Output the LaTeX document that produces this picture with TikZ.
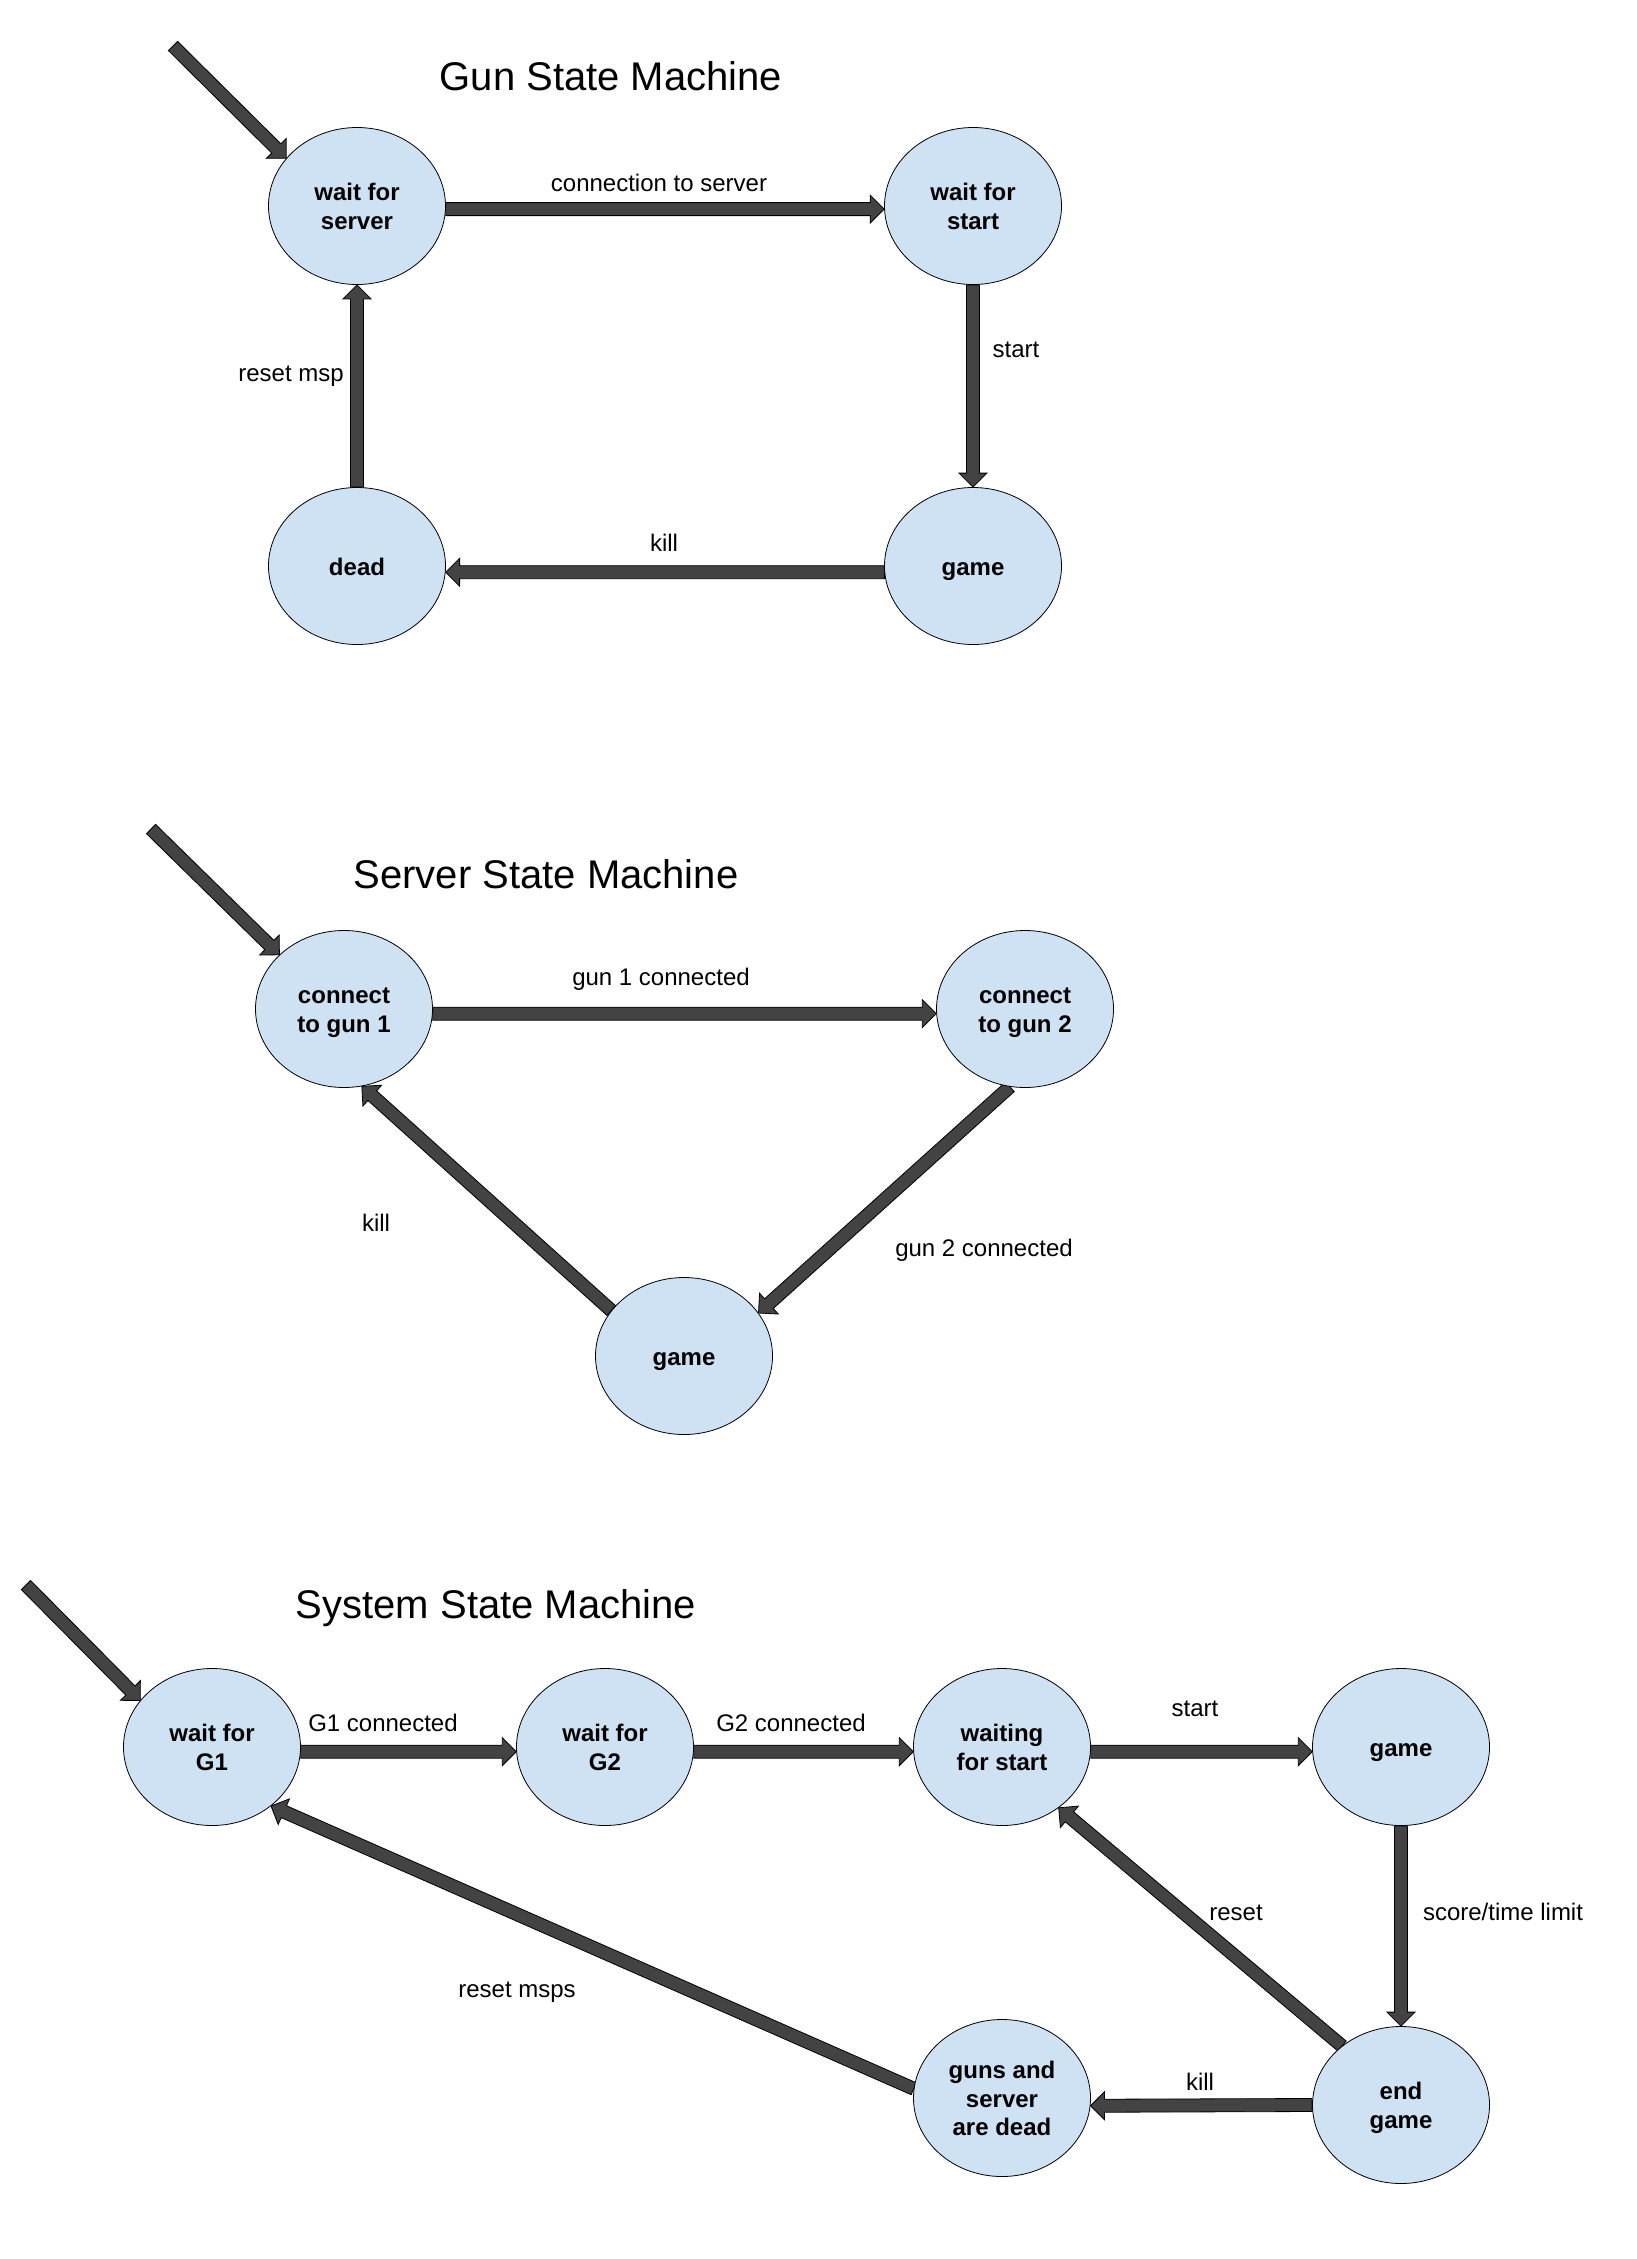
\documentclass[tikz,border=0pt]{standalone}
\usepackage{fontspec}
\setmainfont{Liberation Sans}
\usetikzlibrary{calc,shapes.geometric,backgrounds}
\definecolor{nodefill}{HTML}{CFE2F3}
\definecolor{arrgray}{HTML}{434343}
\newcommand{\mytopstrut}{\rule{0pt}{21.7pt}}
\newcommand{\mybotstrut}{\rule[-5.1pt]{0pt}{5.1pt}}
\newcommand{\stx}[1]{\setbox\strutbox\hbox{\vrule height 23.2pt depth 5.2pt width 0pt}%
  \begin{tabular}{@{}c@{}}#1\end{tabular}}
\tikzset{
  state/.style={ellipse, draw=black, line width=0.8pt, fill=nodefill,
    minimum width=177pt, minimum height=157pt, inner sep=0pt,
    font=\bfseries\fontsize{24}{28.4}\selectfont},
  lbl/.style={font=\fontsize{24}{28.4}\selectfont, inner sep=0pt,
    execute at begin node=\mytopstrut, execute at end node=\mybotstrut},
  ttl/.style={font=\fontsize{40}{46}\selectfont, inner sep=0pt},
  fatarr/.style={fill=arrgray, draw=black, line width=0.8pt, line join=miter},
}
\newcommand{\fatarrow}[2]{%
  \path #1 coordinate (fa-a) #2 coordinate (fa-b);
  \path ($(fa-b)!14pt!(fa-a)$) coordinate (fa-c);
  \begin{scope}[on background layer]
  \filldraw[fatarr] ($(fa-a)!6.5pt!90:(fa-b)$) -- ($(fa-c)!6.5pt!90:(fa-b)$)
    -- ($(fa-c)!14pt!90:(fa-b)$) -- (fa-b) -- ($(fa-c)!14pt!-90:(fa-b)$)
    -- ($(fa-c)!6.5pt!-90:(fa-b)$) -- ($(fa-a)!6.5pt!-90:(fa-b)$) -- cycle;
  \end{scope}}
\begin{document}
\begin{tikzpicture}[x=1pt,y=-1pt]
\useasboundingbox (0,0) rectangle (1637,2259);
\begin{scope}[on background layer]
\fill[white] (0,0) rectangle (1637,2259);
\end{scope}

% ---------------- Gun State Machine ----------------
\node[ttl] (gtitle) at (611,76) {Gun State Machine};
\node[state] (gws) at (357,206) {\stx{wait for\\server}};
\node[state] (gwst) at (973,206) {\stx{wait for\\start}};
\node[state] (ggame) at (973,566) {\stx{game}};
\node[state] (gdead) at (357,566) {\stx{dead}};
\coordinate (ginit) at (173,46);

\node[lbl] (lconn) at (659,183) {connection to server};
\node[lbl] (lgstart) at (1016,349) {start};
\node[lbl] (lgkill) at (664,543) {kill};
\node[lbl] (lgreset) at (291,373) {reset msp};

\fatarrow{(ginit)}{(gws.146)}
\fatarrow{(gws.-2)}{(gwst.182)}
\fatarrow{(gwst.south)}{(ggame.north)}
\fatarrow{(ggame.184)}{(gdead.-4)}
\fatarrow{(gdead.north)}{(gws.south)}

% ---------------- Server State Machine ----------------
\node[ttl] (stitle) at (546,874) {Server State Machine};
\node[state] (sc1) at (344,1009) {\stx{connect\\to gun 1}};
\node[state] (sc2) at (1025,1009) {\stx{connect\\to gun 2}};
\node[state] (sgame) at (684,1356) {\stx{game}};
\coordinate (sinit) at (151,829);

\node[lbl] (lg1c) at (661,977) {gun 1 connected};
\node[lbl] (lg2c) at (984,1248) {gun 2 connected};
\node[lbl] (lskill) at (376,1223) {kill};

\fatarrow{(sinit)}{(sc1.140)}
\fatarrow{(sc1.-3)}{(sc2.183)}
\fatarrow{(sc2.-101)}{(sgame.30)}
\fatarrow{(sgame.148)}{(sc1.-77)}

% ---------------- System State Machine ----------------
\node[ttl] (ytitle) at (496,1608) {System State Machine};
\node[state] (wg1) at (212,1747) {\stx{wait for\\G1}};
\node[state] (wg2) at (605,1747) {\stx{wait for\\G2}};
\node[state] (wfs) at (1002,1747) {\stx{waiting\\for start}};
\node[state] (ygame) at (1401,1747) {\stx{game}};
\node[state] (yend) at (1401,2105) {\stx{end\\game}};
\node[state] (guns) at (1002,2098) {\stx{guns and\\server\\are dead}};
\coordinate (yinit) at (26,1585);

\node[lbl] (lG1) at (383,1723) {G1 connected};
\node[lbl] (lG2) at (791,1723) {G2 connected};
\node[lbl] (lystart) at (1195,1708) {start};
\node[lbl] (lscore) at (1503,1912) {score/time limit};
\node[lbl] (lyreset) at (1236,1912) {reset};
\node[lbl] (lykill) at (1200,2082) {kill};
\node[lbl] (lmsps) at (517,1989) {reset msps};

\fatarrow{(yinit)}{(wg1.147)}
\fatarrow{(wg1.-3)}{(wg2.183)}
\fatarrow{(wg2.-3)}{(wfs.183)}
\fatarrow{(wfs.-3)}{(ygame.183)}
\fatarrow{(ygame.south)}{(yend.north)}
\fatarrow{(yend.west)}{(guns.-5)}
\fatarrow{(yend.135)}{(wfs.-47)}
\fatarrow{(guns.174)}{(wg1.-45)}
\end{tikzpicture}
\end{document}
